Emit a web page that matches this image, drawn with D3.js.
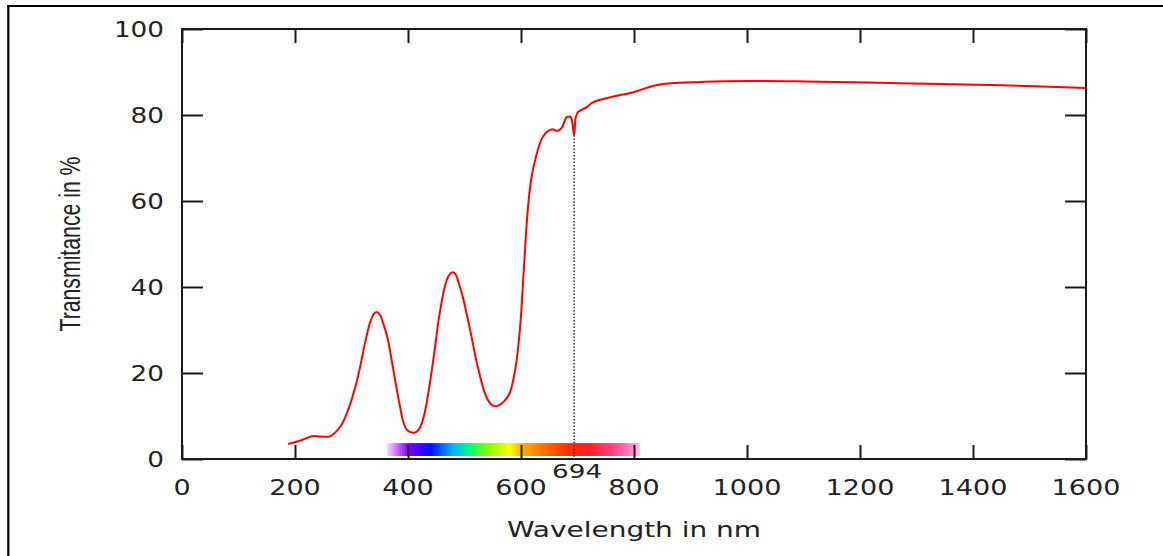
<!DOCTYPE html>
<html>
<head>
<meta charset="utf-8">
<script src="https://cdn.jsdelivr.net/npm/d3@7"></script>
<style>
  body { margin: 0; background: #fff; }
  svg { display: block; }
</style>
</head>
<body>
<div id="chart"></div>
<script>
// Chart size
var svgWidth = 1163;
var svgHeight = 556;

// Plot box (gnuplot style, ticks mirrored on all four sides)
var box = { left: 182, right: 1086, top: 29, bottom: 459 };

// data: wavelength (nm) and transmittance (%)
var wavelength = [188, 210, 230, 262, 280, 292, 310, 324, 333, 340, 345, 350, 356, 364, 372, 379, 386,
  392, 398, 405, 415, 422, 430, 444, 455, 465, 472, 478, 484, 490, 497, 510, 522, 536, 545, 552, 560, 570,
  580, 590, 598, 605, 612, 618, 625, 639, 655, 664, 672, 681, 688, 691, 694, 697, 701, 717, 728, 760,
  799, 841, 917, 1005, 1100, 1271, 1450, 1600];
var transmittance = [3.5, 4.3, 5.3, 5.3, 7.5, 10.7, 18.4, 27, 31.8, 33.8, 34.2, 33.6, 31.6, 28, 22.3, 17, 12.1,
  8.5, 6.8, 6.2, 6.3, 7.5, 11, 22.3, 33, 40, 42.6, 43.4, 43.0, 40.8, 37.7, 30, 22.3, 15.3, 13.0, 12.3, 12.4, 13.4,
  15.3, 21, 30, 44, 58, 65, 69.5, 75, 76.7, 76.3, 77, 79.5, 79.5, 78, 75.3, 79.5, 80.7, 81.9, 83, 84.2,
  85.3, 87, 87.7, 87.9, 87.8, 87.4, 86.9, 86.3];

var xTicks = [0, 200, 400, 600, 800, 1000, 1200, 1400, 1600];
var yTicks = [0, 20, 40, 60, 80, 100];

// visible spectrum strip under the curve
var spectrumRange = [363, 811];
var spectrumNm = [363, 380, 400, 440, 480, 510, 540, 580, 600, 640, 680, 720, 760, 800, 811];
var spectrumColor = ["#ffd6ff", "#d070ff", "#8000ff", "#0010ff", "#00b8ff", "#00ff70", "#80ff00", "#ffff00",
  "#ffb000", "#ff7000", "#ff3000", "#ff2020", "#ff4080", "#ff90d0", "#ffd0ee"];

var markerNm = 694;
var markerValue = 75.3;

var svg = d3.select("#chart")
  .append("svg")
  .attr("width", svgWidth)
  .attr("height", svgHeight);

// outer frame (top and left edge of the cropped page)
svg.append("line").attr("x1", 7).attr("x2", svgWidth).attr("y1", 6).attr("y2", 6)
  .attr("stroke", "#000").attr("stroke-width", 2.2);
svg.append("line").attr("x1", 8.3).attr("x2", 8.3).attr("y1", 5).attr("y2", svgHeight)
  .attr("stroke", "#000").attr("stroke-width", 2.2);

var x = d3.scaleLinear().domain([0, 1600]).range([box.left, box.right]);
var y = d3.scaleLinear().domain([0, 100]).range([box.bottom, box.top]);

// spectrum gradient
var grad = svg.append("defs").append("linearGradient")
  .attr("id", "spectrum")
  .attr("gradientUnits", "userSpaceOnUse")
  .attr("x1", x(spectrumRange[0])).attr("x2", x(spectrumRange[1]))
  .attr("y1", 0).attr("y2", 0);
spectrumNm.forEach(function (d, i) {
  grad.append("stop")
    .attr("offset", (d - spectrumRange[0]) / (spectrumRange[1] - spectrumRange[0]))
    .attr("stop-color", spectrumColor[i]);
});
svg.append("rect")
  .attr("x", x(spectrumRange[0]))
  .attr("width", x(spectrumRange[1]) - x(spectrumRange[0]))
  .attr("y", y(3.7))
  .attr("height", y(0.7) - y(3.7))
  .attr("fill", "url(#spectrum)");

// axes with inward ticks
var axisColor = "#1a1a1a";
function styleAxis(g) {
  g.select(".domain").remove();
  g.selectAll(".tick line").attr("stroke", axisColor).attr("stroke-width", 2);
  g.selectAll("text").remove();
}
svg.append("g").attr("transform", "translate(0," + box.bottom + ")")
  .call(d3.axisBottom(x).tickValues(xTicks).tickSize(-14)).call(styleAxis);
svg.append("g").attr("transform", "translate(0," + box.top + ")")
  .call(d3.axisTop(x).tickValues(xTicks).tickSize(-14)).call(styleAxis);
svg.append("g").attr("transform", "translate(" + box.left + ",0)")
  .call(d3.axisLeft(y).tickValues(yTicks).tickSize(-21)).call(styleAxis);
svg.append("g").attr("transform", "translate(" + box.right + ",0)")
  .call(d3.axisRight(y).tickValues(yTicks).tickSize(-21)).call(styleAxis);

// border box
svg.append("rect")
  .attr("x", box.left).attr("y", box.top)
  .attr("width", box.right - box.left).attr("height", box.bottom - box.top)
  .attr("fill", "none").attr("stroke", axisColor).attr("stroke-width", 2);

// tick labels (wide gnuplot-like digits)
var labelFont = "'DejaVu Sans', sans-serif";
svg.append("g").selectAll("text")
  .data(xTicks)
  .enter()
  .append("text")
  .attr("x", function (d) { return x(d); })
  .attr("y", 495)
  .attr("text-anchor", "middle")
  .attr("font-family", labelFont)
  .attr("font-size", 21)
  .attr("fill", "#222")
  .attr("textLength", function (d) { return String(d).length * 17.2; })
  .attr("lengthAdjust", "spacingAndGlyphs")
  .text(function (d) { return d; });

svg.append("g").selectAll("text")
  .data(yTicks)
  .enter()
  .append("text")
  .attr("x", 164)
  .attr("y", function (d) { return y(d) + 7.5; })
  .attr("text-anchor", "end")
  .attr("font-family", labelFont)
  .attr("font-size", 21)
  .attr("fill", "#222")
  .attr("textLength", function (d) { return String(d).length * 16.7; })
  .attr("lengthAdjust", "spacingAndGlyphs")
  .text(function (d) { return d; });

// axis titles
svg.append("text")
  .attr("x", x(800))
  .attr("y", 537)
  .attr("text-anchor", "middle")
  .attr("font-family", labelFont)
  .attr("font-size", 21)
  .attr("fill", "#222")
  .attr("textLength", 254)
  .attr("lengthAdjust", "spacingAndGlyphs")
  .text("Wavelength in nm");

svg.append("text")
  .attr("transform", "translate(80," + ((box.top + box.bottom) / 2) + ") rotate(-90)")
  .attr("text-anchor", "middle")
  .attr("font-family", "'Liberation Sans', sans-serif")
  .attr("font-size", 29)
  .attr("fill", "#222")
  .attr("textLength", 175)
  .attr("lengthAdjust", "spacingAndGlyphs")
  .text("Transmitance in %");

// dotted marker at 694 nm
svg.append("line")
  .attr("x1", x(markerNm)).attr("x2", x(markerNm))
  .attr("y1", y(markerValue)).attr("y2", box.bottom)
  .attr("stroke", "#333")
  .attr("stroke-width", 1.6)
  .attr("stroke-dasharray", "1.5,1.8");

svg.append("text")
  .attr("x", x(markerNm) + 3)
  .attr("y", 478)
  .attr("text-anchor", "middle")
  .attr("font-family", labelFont)
  .attr("font-size", 20)
  .attr("fill", "#222")
  .attr("textLength", 50)
  .attr("lengthAdjust", "spacingAndGlyphs")
  .text(markerNm);

// transmittance curve
var points = wavelength.map(function (d, i) { return [d, transmittance[i]]; });
var line = d3.line()
  .x(function (d) { return x(d[0]); })
  .y(function (d) { return y(d[1]); })
  .curve(d3.curveCatmullRom.alpha(0.5));

svg.append("path")
  .datum(points)
  .attr("d", line)
  .attr("fill", "none")
  .attr("stroke", "#ff0000")
  .attr("stroke-width", 2);
</script>
</body>
</html>
